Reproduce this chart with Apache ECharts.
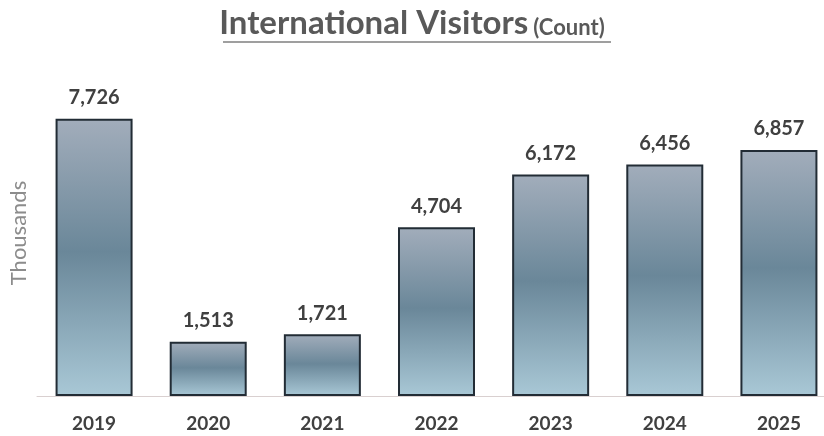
<!DOCTYPE html>
<html><head><meta charset="utf-8">
<script src="https://cdn.jsdelivr.net/npm/echarts@6/dist/echarts.min.js"></script>
<style>html,body{margin:0;padding:0;background:#fff}#c{width:824px;height:436px}</style>
</head><body><div id="c"></div>
<script>
const categories = ['2019','2020','2021','2022','2023','2024','2025'];
const visitors = [7726, 1513, 1721, 4704, 6172, 6456, 6857];
const yMax = 8000;

const chart = echarts.init(document.getElementById('c'), null, {renderer:'canvas'});
const barColor = new echarts.graphic.LinearGradient(0,0,0,1,[
  {offset:0, color:'#a2adbb'},
  {offset:0.48, color:'#6a8799'},
  {offset:1, color:'#a9c8d6'}
]);
chart.setOption({
  animation:false,
  title:{
    text:'{a|International Visitors} {b|(Count)}',
    left:'center', top:2,
    textStyle:{rich:{
      a:{fontFamily:'Lato', fontWeight:'bold', fontSize:33, color:'#595959'},
      b:{fontFamily:'Lato', fontWeight:'bold', fontSize:22, color:'#595959', padding:[9,0,0,0]}
    }}
  },
  graphic:[
    {type:'line', shape:{x1:223,y1:42,x2:611,y2:42}, style:{stroke:'#7f7f7f', lineWidth:1.5}},
    {type:'text', x:19, y:233, rotation:Math.PI/2,
      style:{text:'Thousands', fill:'#8c8c8c', fontSize:22, fontFamily:'Lato', align:'center', verticalAlign:'middle'}}
  ],
  grid:{left:37, width:799, bottom:40, top:109, outerBoundsMode:'none', containLabel:false},
  xAxis:{type:'category', data:categories,
    axisLine:{lineStyle:{color:'#d9d0d0', width:1}}, axisTick:{show:false},
    axisLabel:{margin:18, color:'#404040', fontWeight:'bold', fontSize:19, fontFamily:'Lato'}},
  yAxis:{type:'value', min:0, max:yMax, show:true,
    axisLine:{show:false}, axisTick:{show:false}, axisLabel:{show:false}, splitLine:{show:false}},
  series:[{type:'bar', data:visitors, barWidth:77,
    itemStyle:{color:barColor, borderColor:'#222c35', borderWidth:2},
    label:{show:true, position:'top', distance:11, color:'#404040', fontWeight:'bold', fontSize:20, fontFamily:'Lato',
      formatter:p=>p.value.toLocaleString('en-US')}
  }]
});
</script></body></html>
